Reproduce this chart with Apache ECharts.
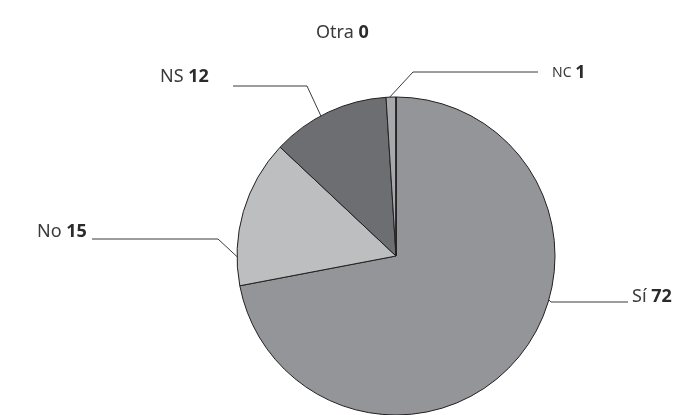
<!DOCTYPE html>
<html lang="es">
<head>
    <meta charset="UTF-8">
    <title>Respuestas</title>
    <script src="https://cdn.jsdelivr.net/npm/echarts@6/dist/echarts.min.js"></script>
    <style>
        html, body { margin: 0; padding: 0; background: #fff; }
    </style>
</head>
<body>
    <div id="main" style="width: 678px;height:415px;"></div>
    <script type="text/javascript">
        // datos
        var categories = ['Sí', 'No', 'NS', 'NC', 'Otra'];
        var values = [72, 15, 12, 1, 0];
        var colors = ['#939598', '#bcbec0', '#6d6e71', '#a7a9ac', '#d1d3d4'];

        // posición de cada etiqueta y su línea guía (píxeles)
        var labelPos = [
            { x: 632, y: 297, line: [[526, 277], [551, 302], [628, 302]] },
            { x: 37, y: 232, line: [[245, 264], [218, 239], [92, 239]] },
            { x: 160, y: 77, line: [[333, 142], [307, 86], [233, 86]] },
            { x: 552, y: 73, line: [[388, 99], [413, 72], [538, 72]] },
            { x: 316, y: 33, line: null }
        ];

        var myChart = echarts.init(document.getElementById('main'));

        var data = [];
        for (var i = 0; i < categories.length; i++) {
            data.push({
                name: categories[i],
                value: values[i],
                itemStyle: { color: colors[i] },
                labelLine: { show: labelPos[i].line != null }
            });
        }

        var option = {
            animation: false,
            series: [
                {
                    type: 'pie',
                    center: [396, 256],
                    radius: 159,
                    startAngle: 90,
                    clockwise: true,
                    avoidLabelOverlap: false,
                    emphasis: { disabled: true },
                    itemStyle: {
                        borderColor: '#231f20',
                        borderWidth: 1
                    },
                    label: {
                        show: true,
                        formatter: function (p) {
                            var n = p.name === 'NC' ? '{sc|' + p.name + ' }' : '{n|' + p.name + ' }';
                            return n + '{v|' + p.value + '}';
                        },
                        rich: {
                            n: { fontFamily: 'Noto Sans', fontSize: 18, color: '#3a3a3a' },
                            sc: { fontFamily: 'Noto Sans', fontSize: 14, color: '#3a3a3a' },
                            v: { fontFamily: 'Noto Sans', fontSize: 18, fontWeight: 'bold', color: '#2b2b2b' }
                        }
                    },
                    labelLine: {
                        show: true,
                        length: 20,
                        length2: 20,
                        lineStyle: { color: '#3a3a3a', width: 1 }
                    },
                    labelLayout: function (params) {
                        var p = labelPos[params.dataIndex];
                        var res = {
                            x: p.x,
                            y: p.y,
                            align: 'left',
                            verticalAlign: 'middle'
                        };
                        if (p.line) {
                            res.labelLinePoints = p.line;
                        }
                        return res;
                    },
                    data: data
                }
            ]
        };

        myChart.setOption(option);
    </script>
</body>
</html>
